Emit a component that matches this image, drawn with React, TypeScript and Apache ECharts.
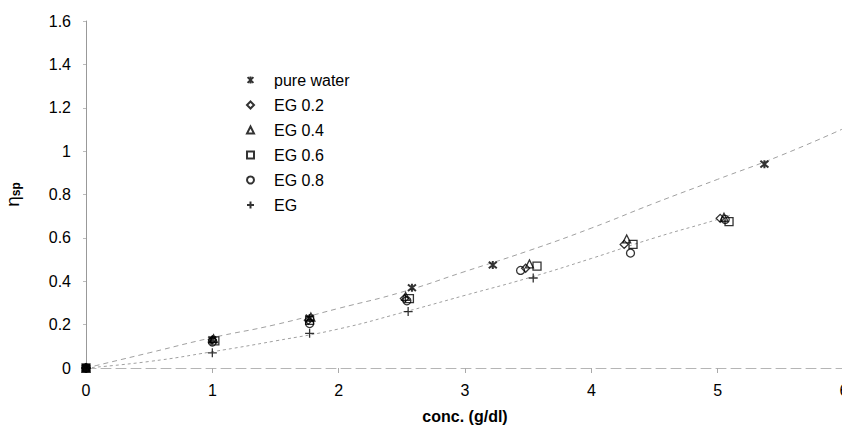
import React, { useEffect, useRef } from "react";
import * as echarts from "echarts";

// Measured data points (conc. g/dl, eta_sp)
const pureWater = [[0, 0], [1.0, 0.13], [1.77, 0.23], [2.58, 0.37], [3.22, 0.475], [5.37, 0.94]];
const eg02 = [[0, 0], [1.0, 0.13], [1.76, 0.22], [2.52, 0.32], [3.48, 0.46], [4.26, 0.57], [5.02, 0.69]];
const eg04 = [[0, 0], [1.01, 0.135], [1.78, 0.235], [2.53, 0.33], [3.51, 0.48], [4.28, 0.595], [5.05, 0.695]];
const eg06 = [[0, 0], [1.02, 0.125], [1.77, 0.22], [2.56, 0.32], [3.57, 0.47], [4.33, 0.57], [5.09, 0.675]];
const eg08 = [[0, 0], [1.0, 0.12], [1.77, 0.205], [2.54, 0.31], [3.44, 0.45], [4.31, 0.53], [5.06, 0.685]];
const egPure = [[0, 0], [1.0, 0.07], [1.77, 0.16], [2.55, 0.26], [3.54, 0.415]];

// Trend lines
const upperTrend = [[0, 0], [0.5, 0.07], [1, 0.14], [1.5, 0.2], [2, 0.275], [2.5, 0.35], [3, 0.445], [3.5, 0.54], [4, 0.645], [4.5, 0.76], [5, 0.87], [5.5, 0.98], [6, 1.105]];
const lowerTrend = [[0, 0], [0.5, 0.03], [1, 0.075], [1.5, 0.125], [2, 0.18], [2.5, 0.255], [3, 0.335], [3.5, 0.415], [4, 0.505], [4.5, 0.6], [5, 0.685], [5.1, 0.705]];

const seriesNames = ["pure water", "EG 0.2", "EG 0.4", "EG 0.6", "EG 0.8", "EG"];

const STAR = "path://M0,0L10,10M10,0L0,10M5,-1L5,11";
const PLUS = "path://M5,0L5,10M0,5L10,5";

const FONT = "'Liberation Sans', Arial, sans-serif";

export default function App() {
  const ref = useRef<HTMLDivElement>(null);
  useEffect(() => {
    document.body.style.margin = "0";
    if (!ref.current) return;
    const chart = echarts.init(ref.current, undefined, { renderer: "svg" });
    const hollow = (w = 1.3) => ({ color: "transparent", borderColor: "#000", borderWidth: w });
    const scatter = (name: string, data: number[][], symbol: string, size: number, w = 1.3) => ({
      name,
      type: "scatter",
      data,
      symbol,
      symbolSize: size,
      itemStyle: hollow(w),
      z: 3,
    });
    chart.setOption({
      animation: false,
      backgroundColor: "#fff",
      grid: { left: 86, right: -2, top: 21, bottom: 63, containLabel: false, outerBoundsMode: "none" },
      legend: {
        orient: "vertical",
        left: 241,
        top: 67,
        itemWidth: 7,
        itemHeight: 7,
        itemGap: 9,
        symbolKeepAspect: true,
        data: seriesNames,
        textStyle: { fontFamily: FONT, fontSize: 16, color: "#000", lineHeight: 16, padding: [0, 0, 0, 15] },
      },
      xAxis: {
        type: "value",
        min: 0,
        max: 6,
        interval: 1,
        name: "conc. (g/dl)",
        nameLocation: "middle",
        nameGap: 40,
        nameTextStyle: { fontFamily: FONT, fontSize: 16, fontWeight: "bold", color: "#000" },
        axisLine: { show: true, lineStyle: { color: "#b5b5b5", width: 1, type: [10, 5] } },
        axisTick: { show: true, length: 5, lineStyle: { color: "#aaa" } },
        axisLabel: { fontFamily: FONT, fontSize: 16, color: "#000", margin: 14 },
        splitLine: { show: false },
      },
      yAxis: {
        type: "value",
        min: 0,
        max: 1.6,
        interval: 0.2,
        name: "{a|η}{b|sp}",
        nameLocation: "middle",
        nameRotate: 90,
        nameGap: 64,
        nameTextStyle: {
          fontFamily: FONT,
          color: "#000",
          rich: {
            a: { fontFamily: FONT, fontSize: 19, color: "#000" },
            b: { fontFamily: FONT, fontSize: 12, color: "#000", fontWeight: "bold", padding: [7, 0, 0, 0] },
          },
        },
        axisLine: { show: true, lineStyle: { color: "#999", width: 1 } },
        axisTick: { show: true, length: 3, lineStyle: { color: "#bbb" } },
        axisLabel: { fontFamily: FONT, fontSize: 16, color: "#000", margin: 15 },
        splitLine: { show: false },
      },
      series: [
        {
          name: "upper trend",
          type: "line",
          data: upperTrend,
          smooth: true,
          showSymbol: false,
          symbol: "none",
          lineStyle: { color: "#a0a0a0", width: 1, type: [5, 4] },
          z: 1,
          silent: true,
        },
        {
          name: "lower trend",
          type: "line",
          data: lowerTrend,
          smooth: true,
          showSymbol: false,
          symbol: "none",
          lineStyle: { color: "#a0a0a0", width: 1, type: [3, 3] },
          z: 1,
          silent: true,
        },
        scatter(seriesNames[0], pureWater, STAR, 8, 2),
        scatter(seriesNames[1], eg02, "diamond", 8),
        scatter(seriesNames[2], eg04, "triangle", 8),
        scatter(seriesNames[3], eg06, "rect", 8),
        scatter(seriesNames[4], eg08, "circle", 8),
        scatter(seriesNames[5], egPure, PLUS, 9),
        {
          name: "origin",
          type: "scatter",
          data: [[0, 0]],
          symbol: "rect",
          symbolSize: 8,
          itemStyle: { color: "#000" },
          z: 4,
        },
      ],
    });
    return () => chart.dispose();
  }, []);
  return <div ref={ref} style={{ width: 842, height: 431 }} />;
}
